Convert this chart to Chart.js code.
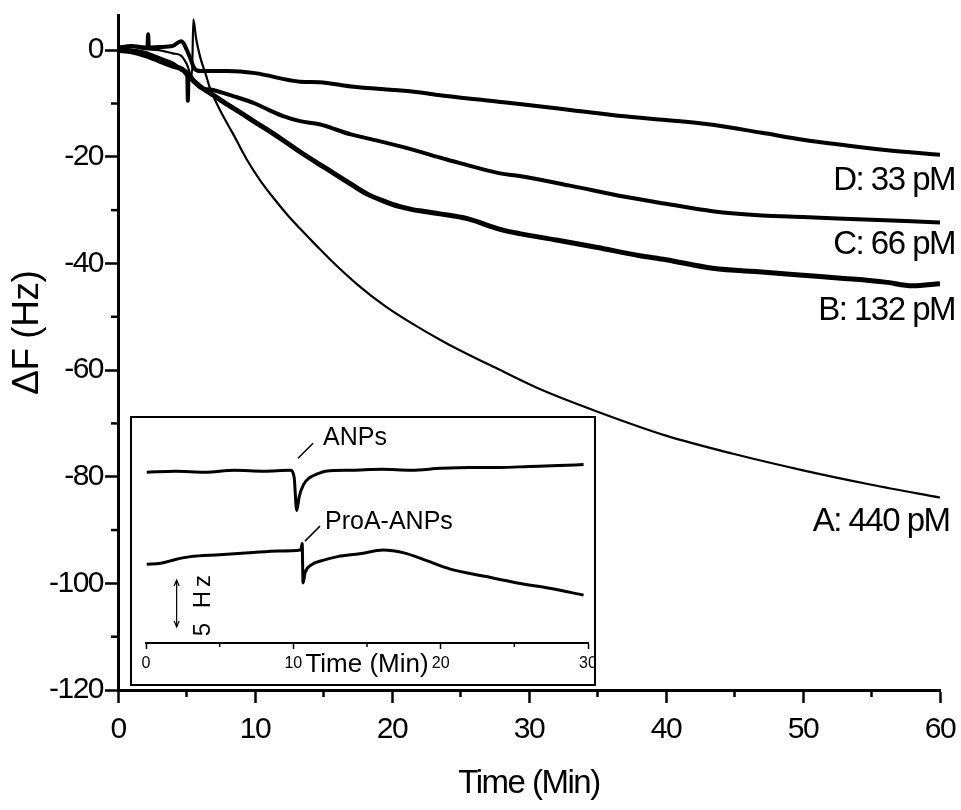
<!DOCTYPE html>
<html>
<head>
<meta charset="utf-8">
<script src="https://cdn.jsdelivr.net/npm/chart.js@4.4.1/dist/chart.umd.min.js"></script>
<style>
  html, body { margin: 0; padding: 0; background: #fff; }
  #wrap { position: relative; width: 961px; height: 810px; }
  #mainChart { position: absolute; left: 0; top: 0; }
  #insetBox { position: absolute; left: 130px; top: 416px; width: 466px; height: 270px;
              box-sizing: border-box; border: 2px solid #000; background: #fff; }
  #insetChart { display: block; }
</style>
</head>
<body>
<div id="wrap">
  <canvas id="mainChart" width="961" height="810"></canvas>
  <div id="insetBox"><canvas id="insetChart" width="462" height="266"></canvas></div>
</div>
<script>
// QCM frequency shift (Hz) vs time (min) for four ProA-ANP concentrations
const timeA  = [0, 1, 2, 3, 4, 4.6, 5.0, 5.4, 5.5, 5.7, 6.0, 6.4, 6.7, 7.5, 8.4, 9.4, 10.4, 11.5, 12.5, 13.3, 14.5, 15.5, 17.5, 19.5, 21.3, 24, 27.9, 31, 35.2, 40, 44.9, 50, 55, 60];
const shiftA = [0.5, 0.6, 0.2, 0, -0.6, -1.0, -2.5, -4.8, 5.8, 2.2, -1.3, -4.5, -7.0, -11.5, -15.7, -20.5, -24.5, -28.2, -31.3, -33.5, -36.7, -39.3, -44.0, -48.0, -51.0, -55.0, -60.0, -63.8, -68.0, -72.3, -75.7, -78.8, -81.5, -83.9];

const timeB  = [0, 1, 2, 3, 4, 4.7, 5.2, 6, 7, 8, 9, 10, 11, 12, 13.3, 14.7, 15.7, 17, 18.2, 19.4, 20.5, 21.5, 22.5, 23.5, 25.5, 27.9, 29.3, 32, 35, 38, 40, 43.4, 47, 50, 53, 56, 58, 60];
const shiftB = [0, -0.3, -1.0, -2.0, -3.0, -3.6, -5.0, -6.8, -8.5, -10.2, -11.8, -13.5, -15.1, -16.8, -19.1, -21.4, -23.0, -25.1, -27.0, -28.3, -29.3, -29.9, -30.3, -30.7, -31.6, -33.6, -34.4, -35.6, -37.0, -38.5, -39.3, -40.9, -41.6, -42.2, -42.8, -43.5, -44.2, -43.8];

const timeC  = [0, 1, 2, 3, 4, 4.8, 5.05, 5.1, 5.15, 5.6, 6, 7, 8.4, 10, 11, 12, 13.3, 14.7, 17, 19, 21.3, 24, 27.9, 29.3, 33, 37, 40, 43.4, 47, 50, 55, 60];
const shiftC = [0.2, 0, -0.5, -1.5, -2.5, -3.8, -4.2, -9.5, -4.5, -6.0, -7.0, -7.5, -8.6, -10.0, -11.2, -12.3, -13.3, -13.9, -15.8, -17.0, -18.5, -20.5, -23.1, -23.6, -25.4, -27.5, -28.8, -30.2, -31.0, -31.3, -31.8, -32.3];

const timeD  = [0, 1, 2, 2.15, 2.2, 2.25, 3, 4, 4.6, 5.2, 5.6, 6, 8, 10, 13.3, 14.7, 17, 21.3, 24, 27.9, 29.3, 33, 37, 40, 43.4, 47, 50, 53, 56, 60];
const shiftD = [0.5, 0.8, 0.5, 0.6, 3.0, 0.5, 0.6, 0.8, 1.7, -1.0, -3.5, -3.9, -3.9, -4.3, -5.9, -6.0, -6.8, -7.7, -8.6, -9.7, -10.1, -11.2, -12.4, -13.1, -14.0, -15.5, -16.8, -17.8, -18.7, -19.6];

const curveNames = ['A: 440 pM', 'B: 132 pM', 'C: 66 pM', 'D: 33 pM'];

const xMajor = [0, 10, 20, 30, 40, 50, 60];
const xMinor = [5, 15, 25, 35, 45, 55];
const yMajor = [-120, -100, -80, -60, -40, -20, 0];
const yMinor = [-110, -90, -70, -50, -30, -10];

// inset: control runs, ANPs vs ProA-ANPs (offset traces, Hz)
const insetTimeTop = [0.05, 2, 4, 6, 8, 9.8, 10.05, 10.23, 10.4, 10.7, 11.1, 11.6, 12.2, 14, 16, 18, 20, 22, 24, 26, 28, 29.7];
const insetTop     = [18.2, 18.3, 18.2, 18.4, 18.3, 18.4, 17.7, 14.1, 15.6, 16.9, 17.6, 18.0, 18.3, 18.4, 18.5, 18.4, 18.6, 18.7, 18.7, 18.8, 18.9, 19.0];
const insetTimeLow = [0.05, 1, 2, 3, 5, 7, 9, 10.5, 10.6, 10.66, 10.8, 11.2, 12, 13, 14.5, 16.1, 17.5, 19, 20.6, 23, 25.2, 27.5, 29.7];
const insetLow     = [8.4, 8.5, 8.9, 9.2, 9.4, 9.6, 9.8, 9.9, 10.6, 6.4, 7.5, 8.3, 8.8, 9.2, 9.5, 9.9, 9.6, 8.8, 7.9, 7.1, 6.4, 5.8, 5.1];
const insetXMajor  = [0, 10, 20, 30];
const insetXMinor  = [5, 15, 25];
const scaleBarTime = [2.08, 2.08];
const scaleBarHz   = [1.7, 6.7];

const FONT = '"Liberation Sans", Arial, Helvetica, sans-serif';
Chart.defaults.font.family = FONT;
Chart.defaults.color = '#000';

function series(t, f) {
  return t.map((x, i) => ({ x: x, y: f[i] }));
}

function trace(data, width) {
  return {
    data: data,
    borderColor: '#000',
    borderWidth: width,
    pointRadius: 0,
    fill: false,
    cubicInterpolationMode: 'monotone'
  };
}

// where the curve names sit (data units)
const curveNoteSpots = [
  { t: 60.7, f: -88.4 },
  { t: 61.1, f: -48.9 },
  { t: 61.1, f: -36.5 },
  { t: 61.1, f: -24.5 }
];

const tightText = {
  id: 'tightText',
  beforeDraw(chart) {
    chart.ctx.letterSpacing = chart.canvas.id === 'mainChart' ? '-1.5px' : '0px';
  }
};

function drawMinorTicks(chart, xs, ys, len) {
  const ctx = chart.ctx;
  const sx = chart.scales.x, sy = chart.scales.y;
  ctx.save();
  ctx.strokeStyle = '#000';
  ctx.lineWidth = chart.canvas.id === 'mainChart' ? 2.5 : 1.5;
  xs.forEach(v => {
    const px = sx.getPixelForValue(v);
    ctx.beginPath();
    ctx.moveTo(px, sx.top);
    ctx.lineTo(px, sx.top + len);
    ctx.stroke();
  });
  ys.forEach(v => {
    const py = sy.getPixelForValue(v);
    ctx.beginPath();
    ctx.moveTo(sy.right, py);
    ctx.lineTo(sy.right - len, py);
    ctx.stroke();
  });
  ctx.restore();
}

const mainDecor = {
  id: 'mainDecor',
  afterDraw(chart) {
    const { ctx, scales: { x, y } } = chart;
    drawMinorTicks(chart, xMinor, yMinor, 7);
    ctx.save();
    ctx.fillStyle = '#000';
    ctx.font = '33px ' + FONT;
    ctx.letterSpacing = '-1.5px';
    ctx.textAlign = 'right';
    ctx.textBaseline = 'middle';
    curveNames.forEach((name, i) => {
      const s = curveNoteSpots[i];
      ctx.fillText(name, x.getPixelForValue(s.t), y.getPixelForValue(s.f));
    });

    // y axis title, reading upward, a bit above the axis middle
    ctx.save();
    ctx.translate(28, y.getPixelForValue(-53));
    ctx.rotate(-Math.PI / 2);
    ctx.textAlign = 'center';
    ctx.font = '37px ' + FONT;
    ctx.letterSpacing = '-0.5px';
    ctx.fillText('ΔF (Hz)', 0, 0);
    ctx.restore();
    ctx.restore();
  }
};

new Chart(document.getElementById('mainChart'), {
  type: 'line',
  data: {
    datasets: [
      trace(series(timeA, shiftA), 2.2),
      trace(series(timeB, shiftB), 5),
      trace(series(timeC, shiftC), 4),
      trace(series(timeD, shiftD), 4)
    ]
  },
  options: {
    responsive: false,
    animation: false,
    layout: { padding: { top: 15, right: 21, left: 0, bottom: 0 } },
    plugins: { legend: { display: false }, tooltip: { enabled: false } },
    scales: {
      x: {
        type: 'linear', min: 0, max: 60,
        afterBuildTicks: s => { s.ticks = xMajor.map(v => ({ value: v })); },
        afterFit: s => { s.height = 120; s.paddingLeft = 0; s.paddingRight = 0; },
        border: { color: '#000', width: 3 },
        grid: { drawOnChartArea: false, tickLength: 13, tickWidth: 2.5, tickColor: '#000' },
        ticks: { color: '#000', font: { size: 30 }, padding: 9, maxRotation: 0, autoSkip: false, callback: v => String(v) },
        title: { display: true, text: 'Time (Min)', color: '#000', font: { size: 33 }, padding: { top: 0, bottom: 6 } }
      },
      y: {
        type: 'linear', min: -120, max: 6.6,
        afterBuildTicks: s => { s.ticks = yMajor.map(v => ({ value: v })); },
        afterFit: s => { s.width = 118; s.paddingTop = 0; s.paddingBottom = 0; },
        border: { color: '#000', width: 3 },
        grid: { drawOnChartArea: false, tickLength: 13, tickWidth: 2.5, tickColor: '#000' },
        ticks: { color: '#000', font: { size: 30 }, padding: 2, autoSkip: false, callback: v => String(v) }
      }
    }
  },
  plugins: [tightText, mainDecor]
});

// inset annotations: leader line from/to, and where the text starts (data units)
const insetNotes = [
  { text: 'ANPs',      from: [10.32, 19.68], to: [11.34, 21.28], at: [12.02, 21.8] },
  { text: 'ProA-ANPs', from: [10.79, 10.85], to: [11.81, 12.45], at: [12.15, 12.87] }
];

const insetDecor = {
  id: 'insetDecor',
  afterDraw(chart) {
    const { ctx, scales: { x, y } } = chart;
    drawMinorTicks(chart, insetXMinor, [], 4);
    ctx.save();
    ctx.strokeStyle = '#000';
    ctx.fillStyle = '#000';

    // leader lines and labels
    ctx.lineWidth = 1.5;
    ctx.font = '25px ' + FONT;
    ctx.textAlign = 'left';
    ctx.textBaseline = 'middle';
    insetNotes.forEach(n => {
      ctx.beginPath();
      ctx.moveTo(x.getPixelForValue(n.from[0]), y.getPixelForValue(n.from[1]));
      ctx.lineTo(x.getPixelForValue(n.to[0]), y.getPixelForValue(n.to[1]));
      ctx.stroke();
      ctx.fillText(n.text, x.getPixelForValue(n.at[0]), y.getPixelForValue(n.at[1]));
    });

    // arrow heads on the scale bar
    const bx = x.getPixelForValue(scaleBarTime[0]);
    const yLo = y.getPixelForValue(scaleBarHz[0]);
    const yHi = y.getPixelForValue(scaleBarHz[1]);
    ctx.lineWidth = 1.2;
    ctx.beginPath();
    ctx.moveTo(bx - 2.5, yHi + 6); ctx.lineTo(bx, yHi); ctx.lineTo(bx + 2.5, yHi + 6);
    ctx.moveTo(bx - 2.5, yLo - 6); ctx.lineTo(bx, yLo); ctx.lineTo(bx + 2.5, yLo - 6);
    ctx.stroke();

    // scale bar caption, reading upward
    ctx.save();
    ctx.translate(x.getPixelForValue(3.87), y.getPixelForValue((scaleBarHz[0] + scaleBarHz[1]) / 2));
    ctx.rotate(-Math.PI / 2);
    ctx.textAlign = 'center';
    ctx.font = '24px ' + FONT;
    ctx.letterSpacing = '4px';
    ctx.fillText('5 Hz', 0, 0);
    ctx.restore();

    // axis caption sits in the tick label row
    ctx.font = '26px ' + FONT;
    ctx.textAlign = 'center';
    ctx.fillText('Time (Min)', x.getPixelForValue(15), x.top + 22);
    ctx.restore();
  }
};

new Chart(document.getElementById('insetChart'), {
  type: 'line',
  data: {
    datasets: [
      trace(series(insetTimeTop, insetTop), 3),
      trace(series(insetTimeLow, insetLow), 3),
      { data: series(scaleBarTime, scaleBarHz), borderColor: '#000', borderWidth: 1.2, pointRadius: 0, fill: false }
    ]
  },
  options: {
    responsive: false,
    animation: false,
    layout: { padding: { top: 10, right: 6, left: 14, bottom: 0 } },
    plugins: { legend: { display: false }, tooltip: { enabled: false } },
    scales: {
      x: {
        type: 'linear', min: 0, max: 30,
        afterBuildTicks: s => { s.ticks = insetXMajor.map(v => ({ value: v })); },
        afterFit: s => { s.height = 41; s.paddingLeft = 0; s.paddingRight = 0; },
        border: { color: '#000', width: 2 },
        grid: { drawOnChartArea: false, tickLength: 6, tickWidth: 1.5, tickColor: '#000' },
        ticks: { color: '#000', font: { size: 16 }, padding: 5, maxRotation: 0, autoSkip: false, callback: v => String(v) }
      },
      y: { type: 'linear', min: 0, max: 22.9, display: false }
    }
  },
  plugins: [tightText, insetDecor]
});
</script>
</body>
</html>
